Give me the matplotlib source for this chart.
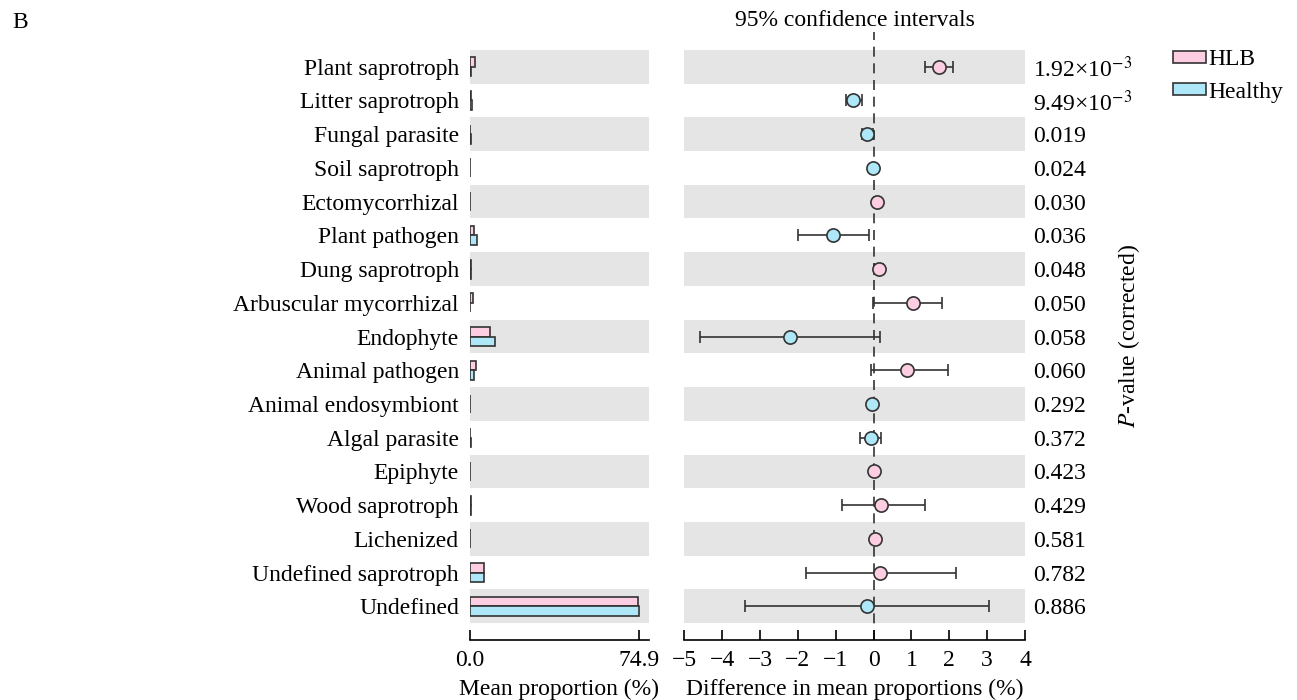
import numpy as np
import matplotlib
matplotlib.use('Agg')
import matplotlib.pyplot as plt
from matplotlib.transforms import blended_transform_factory
from matplotlib.patches import Patch

plt.rcParams['font.family'] = ['Liberation Serif', 'DejaVu Serif']
plt.rcParams['mathtext.fontset'] = 'stix'

categories = ['Plant saprotroph', 'Litter saprotroph', 'Fungal parasite', 'Soil saprotroph',
              'Ectomycorrhizal', 'Plant pathogen', 'Dung saprotroph', 'Arbuscular mycorrhizal',
              'Endophyte', 'Animal pathogen', 'Animal endosymbiont', 'Algal parasite',
              'Epiphyte', 'Wood saprotroph', 'Lichenized', 'Undefined saprotroph', 'Undefined']
hlb_mean = [2.1, 0.4, 0.2, 0.1, 0.2, 1.9, 0.6, 1.2, 8.9, 2.8, 0.1, 0.2, 0.1, 0.6, 0.1, 6.3, 74.6]
healthy_mean = [0.3, 1.0, 0.4, 0.1, 0.1, 3.0, 0.4, 0.2, 11.1, 1.9, 0.1, 0.3, 0.1, 0.4, 0.1, 6.2, 74.9]
diff = [1.74, -0.55, -0.18, -0.02, 0.10, -1.06, 0.15, 1.05, -2.21, 0.89, -0.05, -0.08,
        0.02, 0.20, 0.03, 0.17, -0.17]
ci_low = [1.36, -0.73, -0.30, -0.06, 0.00, -1.99, 0.00, -0.01, -4.58, -0.08, -0.10, -0.36,
          0.00, -0.84, 0.00, -1.79, -3.40]
ci_high = [2.09, -0.31, -0.01, 0.02, 0.13, -0.12, 0.25, 1.82, 0.17, 1.96, 0.00, 0.19,
           0.05, 1.36, 0.06, 2.17, 3.05]
pvalues = ['1.92×10$^{-3}$', '9.49×10$^{-3}$', '0.019', '0.024', '0.030', '0.036', '0.048',
           '0.050', '0.058', '0.060', '0.292', '0.372', '0.423', '0.429', '0.581', '0.782', '0.886']

pink = '#FDCDE2'
blue = '#AEE8F8'
band = '#E5E5E5'
edge = '#333333'
fs = 17

fig = plt.figure(figsize=(12.97, 7.00), dpi=100)
ax1 = fig.add_axes([0.3624, 0.0857, 0.1378, 0.8686])
ax2 = fig.add_axes([0.5276, 0.0857, 0.2627, 0.8686])

y = np.arange(len(categories))
for ax in (ax1, ax2):
    for i in y[::2]:
        ax.axhspan(i - 0.5, i + 0.5, color=band, lw=0, zorder=0)
    ax.set_ylim(17.0, -1.03)
    for s in ('top', 'right', 'left'):
        ax.spines[s].set_visible(False)
    ax.spines['bottom'].set_linewidth(1.2)
    ax.tick_params(axis='x', direction='in', length=7, width=1.2, labelsize=fs, pad=7)

# left: mean proportions
h = 0.28
ax1.barh(y - h / 2, hlb_mean, height=h, color=pink, edgecolor=edge, lw=1.2, zorder=2)
ax1.barh(y + h / 2, healthy_mean, height=h, color=blue, edgecolor=edge, lw=1.2, zorder=2)
ax1.set_xlim(0, 79.3)
ax1.set_xticks([0, 74.9])
ax1.set_xticklabels(['0.0', '74.9'])
ax1.set_yticks(y)
ax1.set_yticklabels(categories, fontsize=fs)
ax1.tick_params(axis='y', length=0, pad=8)
ax1.set_xlabel('Mean proportion (%)', fontsize=fs, labelpad=6)

# right: difference with 95% CI
ax2.axvline(0, color=edge, lw=1.2, ls=(0, (6, 4)), zorder=1)
for i in y:
    c = pink if diff[i] > 0 else blue
    ax2.errorbar(diff[i], i, xerr=[[diff[i] - ci_low[i]], [ci_high[i] - diff[i]]],
                 fmt='o', ms=9.5, mfc=c, mec=edge, mew=1.2, ecolor=edge, elinewidth=1.2,
                 capsize=4.5, capthick=1.2, zorder=3)
ax2.set_xlim(-5, 4)
ax2.set_xticks(range(-5, 5))
ax2.set_xticklabels([str(v).replace('-', '\u2212') for v in range(-5, 5)])
ax2.set_yticks([])
ax2.set_xlabel('Difference in mean proportions (%)', fontsize=fs, labelpad=6)

tr = blended_transform_factory(ax2.transAxes, ax2.transData)
for i, p in enumerate(pvalues):
    ax2.text(1.023, i, p, transform=tr, fontsize=fs, va='center_baseline', ha='left')

ax2.yaxis.set_label_position('right')
ax2.set_ylabel('$\\it{P}$-value (corrected)', fontsize=fs)
ax2.yaxis.set_label_coords(1.267, 0.5)

fig.text(855 / 1297, 1 - 21 / 700, '95% confidence intervals', fontsize=fs, ha='center', va='center')
fig.text(20 / 1297, 1 - 23 / 700, 'B', fontsize=fs, ha='center', va='center')

handles = [Patch(facecolor=pink, edgecolor=edge, lw=1.2, label='HLB'),
           Patch(facecolor=blue, edgecolor=edge, lw=1.2, label='Healthy')]
fig.legend(handles=handles, loc='upper left', bbox_to_anchor=(1164 / 1297, 1 - 40 / 700),
           frameon=False, fontsize=fs, handlelength=1.36, handleheight=0.42, handletextpad=0.1,
           labelspacing=0.48, borderaxespad=0)

fig.savefig('out.png', dpi=100)
